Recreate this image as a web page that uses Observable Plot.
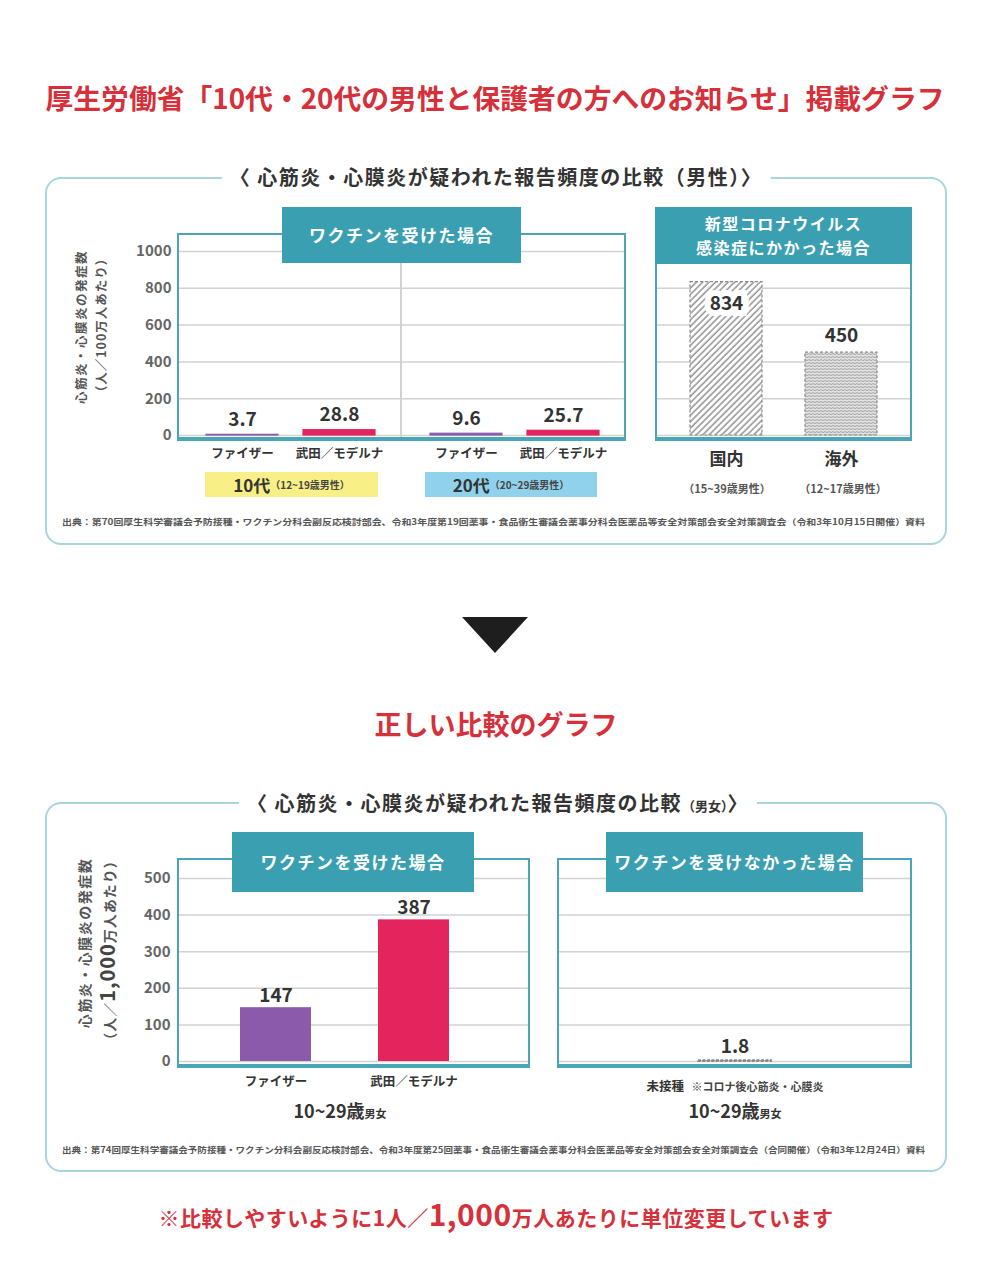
<!DOCTYPE html>
<html><head><meta charset="utf-8">
<script src="https://cdn.jsdelivr.net/npm/d3@7"></script>
<script src="https://cdn.jsdelivr.net/npm/@observablehq/plot@0.6"></script>
<style>
body{margin:0;background:#fff;font-family:"Noto Sans CJK JP","Noto Sans",sans-serif;color:#333;}
#root{position:relative;width:991px;height:1269px;overflow:hidden;background:#fff;}
.c{position:absolute;transform:translate(-50%,-50%);white-space:nowrap;}
.v{position:absolute;transform:translate(-50%,-50%) rotate(-90deg);white-space:nowrap;}
.hdr{position:absolute;background:#3b9fb2;color:#fff;font-weight:bold;font-size:17px;letter-spacing:1.5px;display:flex;align-items:center;justify-content:center;text-align:center;line-height:1.45;}
.frame{position:absolute;box-sizing:border-box;border:2.5px solid #4aa5b7;border-bottom-width:4px;pointer-events:none;}
.panel{position:absolute;box-sizing:border-box;border:2px solid #a9d5de;border-radius:16px;}
</style></head>
<body><div id="root"></div>
<script>
// ---------- data ----------
const title1 = "厚生労働省「10代・20代の男性と保護者の方へのお知らせ」掲載グラフ";
const title2 = "正しい比較のグラフ";
const panel1Title = "〈 心筋炎・心膜炎が疑われた報告頻度の比較（男性）〉";
const panel2TitleMain = "〈 心筋炎・心膜炎が疑われた報告頻度の比較";
const panel2TitleSub = "（男女）";
const ageGroups = ["10代", "20代"];
const ageNotes = ["（12~19歳男性）", "（20~29歳男性）"];
const vaccines = ["ファイザー", "武田／モデルナ"];
const maleRates10s = [3.7, 28.8];
const maleRates20s = [9.6, 25.7];
const infectionPlaces = ["国内", "海外"];
const infectionNotes = ["（15~39歳男性）", "（12~17歳男性）"];
const infectionRates = [834, 450];
const ticks1 = [0, 200, 400, 600, 800, 1000];
const vaccineRates2 = [147, 387];
const unvaccinated = ["未接種"];
const unvaccinatedRates = [1.8];
const ticks2 = [0, 100, 200, 300, 400, 500];
const vaccineColors = ["#8b5aab", "#e3245d"];
const source1 = "出典：第70回厚生科学審議会予防接種・ワクチン分科会副反応検討部会、令和3年度第19回薬事・食品衛生審議会薬事分科会医薬品等安全対策部会安全対策調査会（令和3年10月15日開催）資料";
const source2 = "出典：第74回厚生科学審議会予防接種・ワクチン分科会副反応検討部会、令和3年度第25回薬事・食品衛生審議会薬事分科会医薬品等安全対策部会安全対策調査会（合同開催）（令和3年12月24日）資料";

// ---------- helpers ----------
const FONT = '"Noto Sans CJK JP","Noto Sans",sans-serif';
const root = document.getElementById("root");
function add(cls, style, html) {
  const d = document.createElement("div");
  if (cls) d.className = cls;
  d.style.cssText += style;
  if (html != null) d.innerHTML = html;
  root.appendChild(d);
  return d;
}
function put(el, left, top) {
  el.style.position = "absolute";
  el.style.left = left + "px";
  el.style.top = top + "px";
  root.appendChild(el);
}
const RED = "#d6303b";

// pattern defs
const defs = document.createElementNS("http://www.w3.org/2000/svg", "svg");
defs.setAttribute("width", 0); defs.setAttribute("height", 0);
defs.style.position = "absolute";
defs.innerHTML = `<defs>
<pattern id="hatchDiag" patternUnits="userSpaceOnUse" width="4.5" height="4.5" patternTransform="rotate(45)">
<rect width="4.5" height="4.5" fill="#ffffff"/><line x1="1" y1="0" x2="1" y2="4.5" stroke="#8c8c8c" stroke-width="1.4"/></pattern>
<pattern id="hatchDense" patternUnits="userSpaceOnUse" width="4" height="3">
<rect width="4" height="3" fill="#e2e2e2"/><path d="M0 1.5 L2 0.6 L4 1.5" fill="none" stroke="#9a9a9a" stroke-width="0.9"/></pattern>
</defs>`;
root.appendChild(defs);

// ---------- titles & panels ----------
add("c", `left:495px;top:97px;font-size:27.8px;font-weight:bold;color:${RED};`, title1);
add("panel", "left:45px;top:177px;width:902px;height:368px;");
add("c", "left:496px;top:176px;font-size:20px;font-weight:bold;background:#fff;padding:0 8px;letter-spacing:1.5px;", panel1Title);

add("", "position:absolute;left:462px;top:617px;width:0;height:0;border-left:33px solid transparent;border-right:33px solid transparent;border-top:36px solid #1e1e1e;");
add("c", `left:496px;top:723px;font-size:27px;font-weight:bold;color:${RED};`, title2);
add("panel", "left:45px;top:802px;width:902px;height:370px;");
add("c", "left:498px;top:802px;font-size:20px;font-weight:bold;background:#fff;padding:0 8px;letter-spacing:1.5px;",
  panel2TitleMain + `<span style="font-size:13px;letter-spacing:0">${panel2TitleSub}</span>〉`);

// ---------- chart A: vaccinated males ----------
const rowsA = ageGroups.flatMap((g, i) => vaccines.map((v, j) => ({age: g, vaccine: v, value: [maleRates10s, maleRates20s][i][j]})));
const chartA = Plot.plot({
  width: 530, height: 242, marginLeft: 77, marginRight: 4, marginTop: 18, marginBottom: 40,
  style: {fontFamily: FONT, background: "transparent", color: "#333"},
  fx: {domain: ageGroups, padding: 0, axis: null, label: null},
  x: {domain: vaccines, paddingInner: 0.258, paddingOuter: 0.278, axis: null},
  y: {domain: [0, 1000], axis: null},
  color: {domain: vaccines, range: vaccineColors},
  marks: [
    Plot.gridY(ticks1, {stroke: "#d2d2d2", strokeOpacity: 1, strokeWidth: 1.5}),
    Plot.barY(rowsA, {fx: "age", x: "vaccine", y: "value", fill: "vaccine", stroke: "vaccine", strokeWidth: 1.2}),
    Plot.text(rowsA, {fx: "age", x: "vaccine", y: "value", text: d => d.value.toFixed(1), lineAnchor: "bottom", dy: -9, fontSize: 19, fontWeight: "bold", fill: "#333"}),
    Plot.axisY({ticks: ticks1, tickFormat: d => String(d), tickSize: 0, tickPadding: 7, fontSize: 15, fontWeight: "bold", color: "#666", label: null}),
    Plot.axisX({tickSize: 0, tickPadding: 14, fontSize: 12.5, fontWeight: "bold", color: "#333", label: null})
  ]
});
put(chartA, 100, 233);
add("", "position:absolute;left:400px;top:235px;width:1.5px;height:203px;background:#d2d2d2;");
add("frame", "left:177px;top:233px;width:449px;height:208px;");
add("hdr", "left:282px;top:207px;width:239px;height:56px;", "ワクチンを受けた場合");

// age labels
add("", "position:absolute;left:205px;top:472px;width:173px;height:25px;background:#f8ef86;display:flex;align-items:center;justify-content:center;font-weight:bold;",
  `<span style="font-size:17px">${ageGroups[0]}</span><span style="font-size:10px;color:#444">${ageNotes[0]}</span>`);
add("", "position:absolute;left:425px;top:472px;width:172px;height:25px;background:#90d2eb;display:flex;align-items:center;justify-content:center;font-weight:bold;",
  `<span style="font-size:17px">${ageGroups[1]}</span><span style="font-size:10px;color:#444">${ageNotes[1]}</span>`);

// y label panel 1
add("v", "left:80px;top:327px;font-size:12.5px;font-weight:bold;color:#555;letter-spacing:1.5px;", "心筋炎・心膜炎の発症数");
add("v", "left:100px;top:325px;font-size:12.5px;font-weight:bold;color:#555;letter-spacing:1px;", "（人／100万人あたり）");

// ---------- chart B: infection ----------
const rowsB = infectionPlaces.map((p, i) => ({place: p, value: infectionRates[i], pattern: i === 0 ? "url(#hatchDiag)" : "url(#hatchDense)"}));
const chartB = Plot.plot({
  width: 257, height: 242, marginLeft: 0, marginRight: 0, marginTop: 18, marginBottom: 40,
  style: {fontFamily: FONT, background: "transparent", color: "#333"},
  x: {domain: infectionPlaces, paddingInner: 0.374, paddingOuter: 0.304, axis: null},
  y: {domain: [0, 1000], axis: null},
  color: {type: "identity"},
  marks: [
    Plot.gridY(ticks1, {stroke: "#d2d2d2", strokeOpacity: 1, strokeWidth: 1.5}),
    Plot.barY(rowsB, {x: "place", y: "value", fill: "pattern", stroke: "#8a8a8a", strokeWidth: 1.2, strokeDasharray: "3,2"}),
    Plot.text(rowsB.filter((d, i) => i === 0), {x: "place", y: "value", text: d => String(d.value), dy: 22, fontSize: 19, fontWeight: "bold", fill: "#333", stroke: "#fff", strokeWidth: 12, strokeLinejoin: "miter"}),
    Plot.text(rowsB.filter((d, i) => i === 1), {x: "place", y: "value", text: d => String(d.value), dy: -17, fontSize: 19, fontWeight: "bold", fill: "#333"}),
    Plot.axisX({tickSize: 0, tickPadding: 17, fontSize: 17, fontWeight: "bold", color: "#333", label: null})
  ]
});
put(chartB, 655, 233);
add("frame", "left:655px;top:207px;width:257px;height:234px;");
add("hdr", "left:655px;top:207px;width:257px;height:57px;font-size:16px;", "新型コロナウイルス<br>感染症にかかった場合");
add("c", "left:727px;top:488px;font-size:11px;color:#555;font-weight:bold;", infectionNotes[0]);
add("c", "left:843px;top:488px;font-size:11px;color:#555;font-weight:bold;", infectionNotes[1]);

// source lines
function sourceLine(text, y) {
  const s = document.createElementNS("http://www.w3.org/2000/svg", "svg");
  s.setAttribute("width", 880); s.setAttribute("height", 14);
  s.innerHTML = `<text x="0" y="10" textLength="863" lengthAdjust="spacingAndGlyphs" font-size="8.5" font-weight="bold" fill="#555" font-family='${FONT}'>${text}</text>`;
  put(s, 62, y);
}
sourceLine(source1, 515);

// ---------- chart C: vaccinated both sexes ----------
const rowsC = vaccines.map((v, i) => ({vaccine: v, value: vaccineRates2[i]}));
const chartC = Plot.plot({
  width: 430, height: 243, marginLeft: 77, marginRight: 0, marginTop: 20, marginBottom: 40,
  style: {fontFamily: FONT, background: "transparent", color: "#333"},
  x: {domain: vaccines, paddingInner: 0.482, paddingOuter: 0.511, align: 0.437, axis: null},
  y: {domain: [0, 500], axis: null},
  color: {domain: vaccines, range: vaccineColors},
  marks: [
    Plot.gridY(ticks2, {stroke: "#d2d2d2", strokeOpacity: 1, strokeWidth: 1.5}),
    Plot.barY(rowsC, {x: "vaccine", y: "value", fill: "vaccine"}),
    Plot.text(rowsC, {x: "vaccine", y: "value", text: d => String(d.value), lineAnchor: "bottom", dy: -6, fontSize: 19, fontWeight: "bold", fill: "#333"}),
    Plot.axisY({ticks: ticks2, tickFormat: d => String(d), tickSize: 0, tickPadding: 7, fontSize: 15, fontWeight: "bold", color: "#666", label: null}),
    Plot.axisX({tickSize: 0, tickPadding: 16, fontSize: 12.5, fontWeight: "bold", color: "#333", label: null})
  ]
});
put(chartC, 100, 858);
add("frame", "left:177px;top:858px;width:353px;height:210px;");
add("hdr", "left:232px;top:832px;width:242px;height:60px;", "ワクチンを受けた場合");
add("c", "left:340px;top:1110px;font-size:18px;font-weight:bold;", `10~29歳<span style="font-size:11px">男女</span>`);

add("v", "left:84px;top:943px;font-size:14px;font-weight:bold;color:#555;letter-spacing:1.5px;", "心筋炎・心膜炎の発症数");
add("v", "left:106px;top:950px;font-size:14px;font-weight:bold;color:#555;letter-spacing:1px;", `（人／<span style="font-size:20px;color:#444">1,000</span>万人あたり）`);

// ---------- chart D: unvaccinated ----------
const rowsD = unvaccinated.map((u, i) => ({group: u, value: unvaccinatedRates[i]}));
const chartD = Plot.plot({
  width: 355, height: 243, marginLeft: 0, marginRight: 0, marginTop: 20, marginBottom: 40,
  style: {fontFamily: FONT, background: "transparent", color: "#333"},
  x: {domain: unvaccinated, paddingInner: 0, paddingOuter: 1.9, axis: null},
  y: {domain: [0, 500], axis: null},
  marks: [
    Plot.gridY(ticks2, {stroke: "#d2d2d2", strokeOpacity: 1, strokeWidth: 1.5}),
    Plot.barY(rowsD, {x: "group", y: "value", fill: "#9a9a9a", stroke: "#8a8a8a", strokeWidth: 2, strokeDasharray: "3,1.5"}),
    Plot.text(rowsD, {x: "group", y: "value", text: d => d.value.toFixed(1), lineAnchor: "bottom", dy: -8, fontSize: 19, fontWeight: "bold", fill: "#333"})
  ]
});
put(chartD, 557, 858);
add("frame", "left:557px;top:858px;width:355px;height:210px;");
add("hdr", "left:606px;top:832px;width:257px;height:60px;", "ワクチンを受けなかった場合");
add("c", "left:735px;top:1084px;font-weight:bold;", `<span style="font-size:12.5px">${unvaccinated[0]}</span>&nbsp;&nbsp;<span style="font-size:11px;color:#444">※コロナ後心筋炎・心膜炎</span>`);
add("c", "left:735px;top:1110px;font-size:18px;font-weight:bold;", `10~29歳<span style="font-size:11px">男女</span>`);

sourceLine(source2, 1143);

// footer
add("c", `left:496px;top:1213px;font-size:21px;font-weight:bold;color:${RED};letter-spacing:0.5px;`,
  `※比較しやすいように1人／<span style="font-size:30px">1,000</span>万人あたりに単位変更しています`);
</script>
</body></html>
